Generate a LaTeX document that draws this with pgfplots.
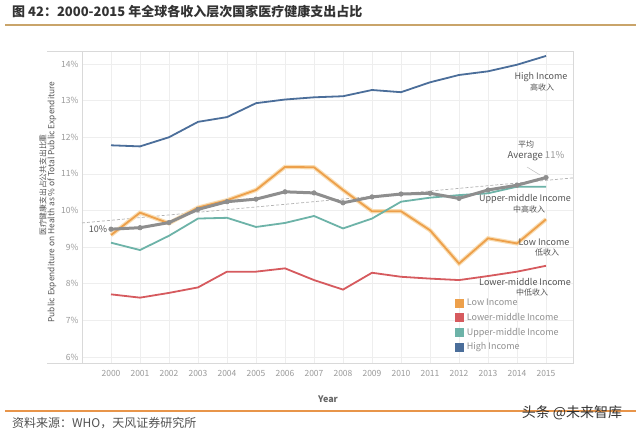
\documentclass[border=0pt]{standalone}
\usepackage{fontspec}
\setmainfont{Noto Sans CJK SC}
\usepackage{pgfplots}
\pgfplotsset{compat=1.18}
\definecolor{lowc}{HTML}{EDA04B}
\definecolor{lowhalo}{HTML}{F9DDB3}
\definecolor{lmc}{HTML}{D65A5E}
\definecolor{umc}{HTML}{6DB3A8}
\definecolor{hic}{HTML}{4B6E9A}
\definecolor{avgc}{HTML}{8E8E8E}
\definecolor{gridc}{HTML}{EEEEEE}
\definecolor{framec}{HTML}{D9D9D9}
\definecolor{tickc}{HTML}{9A9A9A}
\definecolor{annc}{HTML}{555555}
\definecolor{titlec}{HTML}{333333}
\definecolor{tanc}{HTML}{C9A46A}
\definecolor{orangeline}{HTML}{E8954A}
\begin{document}
\begin{tikzpicture}[x=1pt,y=1pt]
\path[use as bounding box] (0,0) rectangle (640,430);
\fill[white] (0,0) rectangle (640,430);
\node[anchor=west, font=\fontsize{13}{15}\selectfont\bfseries, text=titlec, inner sep=0pt] at (12,418) {图 42：2000-2015 年全球各收入层次国家医疗健康支出占比};
\draw[tanc, line width=1.2pt] (5,405) -- (636,405);
\draw[framec, line width=0.8pt] (47,379) -- (82,379);
\draw[framec, line width=0.8pt] (47,67) -- (82,67);
\begin{axis}[
  at={(82pt,67pt)}, anchor=south west, scale only axis,
  width=491pt, height=312pt,
  xmin=1999, xmax=2015.93, ymin=5.836, ymax=14.355,
  xtick={2000,...,2015}, ytick={6,...,14},
  /pgf/number format/assume math mode=true,
  x tick label style={/pgf/number format/1000 sep={}, yshift=-4pt},
  yticklabel={\pgfmathprintnumber{\tick}\%},
  tick label style={font=\fontsize{8.5}{10}\selectfont, text=tickc},
  grid=major, major grid style={gridc, line width=0.6pt},
  axis line style={framec, line width=0.8pt},
  tick style={draw=none},
  clip=false,
  legend image code/.code={\fill[#1] (0pt,-4.5pt) rectangle (9pt,4.5pt);},
  legend cell align=left,
  legend style={at={(rel axis cs:0.7536,0.222)}, anchor=north west, draw=none, fill=none,
    font=\fontsize{9}{10}\selectfont, text=tickc!110,
    nodes={text height=7.4pt, text depth=2pt, inner sep=2.6pt}},
]
\addlegendimage{fill=lowc, draw=none}
\addlegendentry{Low Income}
\addlegendimage{fill=lmc, draw=none}
\addlegendentry{Lower-middle Income}
\addlegendimage{fill=umc, draw=none}
\addlegendentry{Upper-middle Income}
\addlegendimage{fill=hic, draw=none}
\addlegendentry{High Income}
% trend line
\addplot[forget plot, densely dashed, black!30, line width=0.7pt] coordinates {(1999,9.66) (2015.93,10.89)};
% High income
\addplot[forget plot, hic, line width=1.8pt] coordinates {
(2000,11.78) (2001,11.75) (2002,12.00) (2003,12.42) (2004,12.55) (2005,12.93)
(2006,13.03) (2007,13.09) (2008,13.12) (2009,13.29) (2010,13.23) (2011,13.50)
(2012,13.70) (2013,13.80) (2014,13.98) (2015,14.22)};
% Lower-middle
\addplot[forget plot, lmc, line width=1.8pt] coordinates {
(2000,7.71) (2001,7.62) (2002,7.75) (2003,7.90) (2004,8.33) (2005,8.33)
(2006,8.42) (2007,8.10) (2008,7.84) (2009,8.30) (2010,8.19) (2011,8.14)
(2012,8.10) (2013,8.21) (2014,8.33) (2015,8.49)};
% Low income
\addplot[forget plot, lowhalo, line width=4.2pt] coordinates {
(2000,9.33) (2001,9.94) (2002,9.65) (2003,10.08) (2004,10.28) (2005,10.56)
(2006,11.19) (2007,11.18) (2008,10.56) (2009,9.98) (2010,9.98) (2011,9.46)
(2012,8.55) (2013,9.24) (2014,9.10) (2015,9.76)};
\addplot[forget plot, lowc, line width=1.8pt] coordinates {
(2000,9.33) (2001,9.94) (2002,9.65) (2003,10.08) (2004,10.28) (2005,10.56)
(2006,11.19) (2007,11.18) (2008,10.56) (2009,9.98) (2010,9.98) (2011,9.46)
(2012,8.55) (2013,9.24) (2014,9.10) (2015,9.76)};
% Upper-middle
\addplot[forget plot, umc, line width=1.8pt] coordinates {
(2000,9.12) (2001,8.92) (2002,9.31) (2003,9.78) (2004,9.80) (2005,9.55)
(2006,9.66) (2007,9.85) (2008,9.51) (2009,9.78) (2010,10.24) (2011,10.35)
(2012,10.42) (2013,10.47) (2014,10.65) (2015,10.65)};
% Average
\addplot[forget plot, avgc, line width=3pt, mark=*, mark size=2.3pt, mark options={fill=avgc, draw=avgc, line width=0.5pt}] coordinates {
(2000,9.49) (2001,9.53) (2002,9.67) (2003,10.03) (2004,10.24) (2005,10.31)
(2006,10.51) (2007,10.48) (2008,10.21) (2009,10.37) (2010,10.45) (2011,10.47)
(2012,10.33) (2013,10.56) (2014,10.69) (2015,10.90)};
\end{axis}
% axis labels
\node[font=\fontsize{9}{10}\selectfont\bfseries, text=annc!90] at (328,31) {Year};
\node[rotate=90, font=\fontsize{7.8}{9}\selectfont, text=annc] at (43,245) {医疗健康支出占公共支出比重};
\node[rotate=90, font=\fontsize{8.4}{9}\selectfont, text=annc] at (52,228) {Public Expenditure on Health as \% of Total Public Expenditure};
% annotations
\begin{scope}[every node/.style={inner sep=0pt, text=annc}]
\node[font=\fontsize{9}{10}\selectfont] at (541,353) {High Income};
\node[font=\fontsize{8}{9}\selectfont] at (542,343) {高收入};
\node[font=\fontsize{8}{9}\selectfont] at (526,286) {平均};
\node[font=\fontsize{9.5}{10}\selectfont] at (536,274) {Average {\color{tickc}11\%}};
\node[font=\fontsize{9}{10}\selectfont] at (525,231) {Upper-middle Income};
\node[font=\fontsize{8}{9}\selectfont] at (529,221) {中高收入};
\node[font=\fontsize{9}{10}\selectfont] at (544,188) {Low Income};
\node[font=\fontsize{8}{9}\selectfont] at (547,178) {低收入};
\node[font=\fontsize{9}{10}\selectfont] at (525,148) {Lower-middle Income};
\node[font=\fontsize{8}{9}\selectfont] at (532,138) {中低收入};
\node[font=\fontsize{9}{10}\selectfont] at (98,201) {10\%};
\end{scope}
\draw[black!25, line width=0.5pt] (527,263) -- (540,255);
% footer
\draw[orangeline, line width=1.2pt] (5,19) -- (636,19);
\node[anchor=west, font=\fontsize{12}{14}\selectfont, text=titlec!85, inner sep=0pt] at (12,6.5) {资料来源：WHO，天风证券研究所};
\node[font=\fontsize{14}{16}\selectfont, text=titlec, inner sep=0pt] at (572,17) {头条 @未来智库};
\end{tikzpicture}
\end{document}
